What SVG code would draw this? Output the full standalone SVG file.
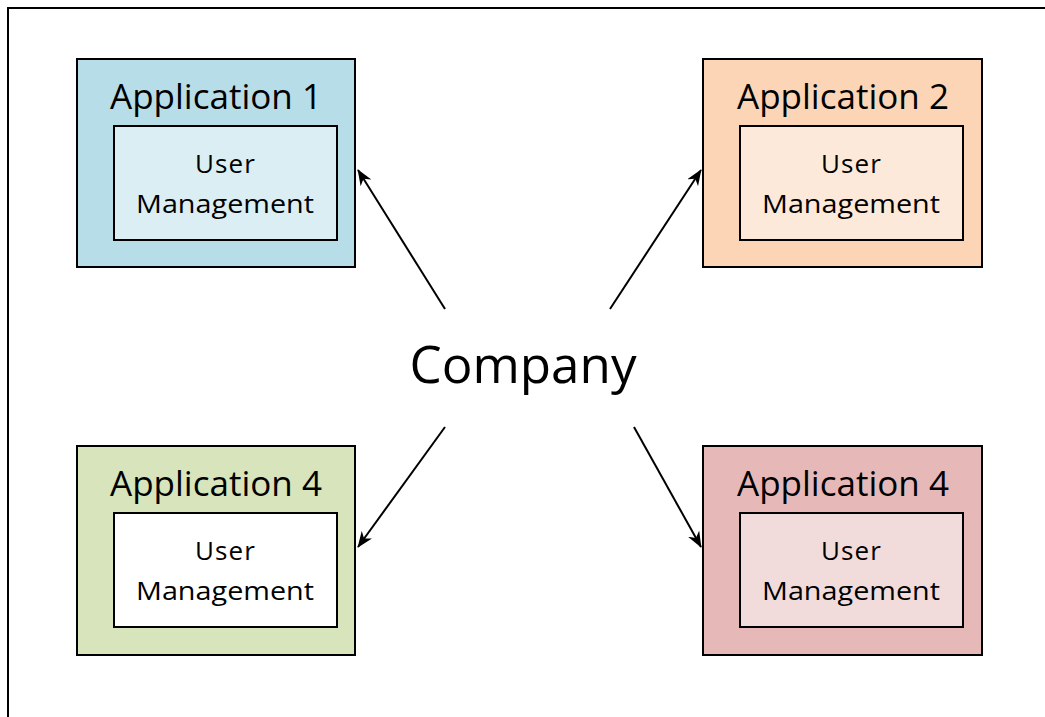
<svg xmlns="http://www.w3.org/2000/svg" width="1045" height="717" viewBox="0 0 1045 717">
<style>
.frame{fill:#fff;stroke:#000;stroke-width:2}
.outer{stroke:#000;stroke-width:2}
.inner{stroke:#000;stroke-width:2}
text{font-family:"Open Sans","Liberation Sans",sans-serif;fill:#000;text-anchor:middle}
.title{font-size:34px}
.sub{font-size:26px}
.co{font-size:52px}
.conn{stroke:#000;stroke-width:2;fill:none;marker-end:url(#ah)}
</style>
<defs>
<marker id="ah" viewBox="0 0 20 16" refX="19" refY="8" markerWidth="16" markerHeight="13" markerUnits="userSpaceOnUse" orient="auto">
<path d="M0,0 L20,8 L0,16 L6,8 Z" fill="#000"/>
</marker>
</defs>
<rect x="0" y="0" width="1045" height="717" fill="#fff"/>
<rect class="frame" x="8" y="8" width="1060" height="740"/>
<g id="app1">
<rect class="outer" x="77" y="59" width="278" height="208" fill="#b7dde8"/>
<text class="title" x="216" y="109" textLength="212" lengthAdjust="spacingAndGlyphs">Application 1</text>
<rect class="inner" x="114" y="126" width="223" height="114" fill="#dbeef4"/>
<text class="sub" x="225" y="173" textLength="60" lengthAdjust="spacing">User</text>
<text class="sub" x="225" y="213" textLength="178" lengthAdjust="spacingAndGlyphs">Management</text>
</g>
<g id="app2">
<rect class="outer" x="703" y="59" width="279" height="208" fill="#fbd5b5"/>
<text class="title" x="843" y="109" textLength="212" lengthAdjust="spacingAndGlyphs">Application 2</text>
<rect class="inner" x="740" y="126" width="223" height="114" fill="#fde9d9"/>
<text class="sub" x="851" y="173" textLength="60" lengthAdjust="spacing">User</text>
<text class="sub" x="851" y="213" textLength="178" lengthAdjust="spacingAndGlyphs">Management</text>
</g>
<g id="app4a">
<rect class="outer" x="77" y="446" width="278" height="209" fill="#d7e4bc"/>
<text class="title" x="216" y="496" textLength="212" lengthAdjust="spacingAndGlyphs">Application 4</text>
<rect class="inner" x="114" y="513" width="223" height="114" fill="#fff"/>
<text class="sub" x="225" y="560" textLength="60" lengthAdjust="spacing">User</text>
<text class="sub" x="225" y="600" textLength="178" lengthAdjust="spacingAndGlyphs">Management</text>
</g>
<g id="app4b">
<rect class="outer" x="703" y="446" width="279" height="209" fill="#e6b9b8"/>
<text class="title" x="843" y="496" textLength="212" lengthAdjust="spacingAndGlyphs">Application 4</text>
<rect class="inner" x="740" y="513" width="223" height="114" fill="#f2dcdb"/>
<text class="sub" x="851" y="560" textLength="60" lengthAdjust="spacing">User</text>
<text class="sub" x="851" y="600" textLength="178" lengthAdjust="spacingAndGlyphs">Management</text>
</g>
<g id="company">
<text class="co" x="523" y="383" textLength="227" lengthAdjust="spacingAndGlyphs">Company</text>
</g>
<g id="connectors">
<line class="conn" x1="445" y1="309" x2="358" y2="170"/>
<line class="conn" x1="610" y1="309" x2="701" y2="170"/>
<line class="conn" x1="445" y1="427" x2="358" y2="547"/>
<line class="conn" x1="634" y1="427" x2="701" y2="547"/>
</g>
</svg>
